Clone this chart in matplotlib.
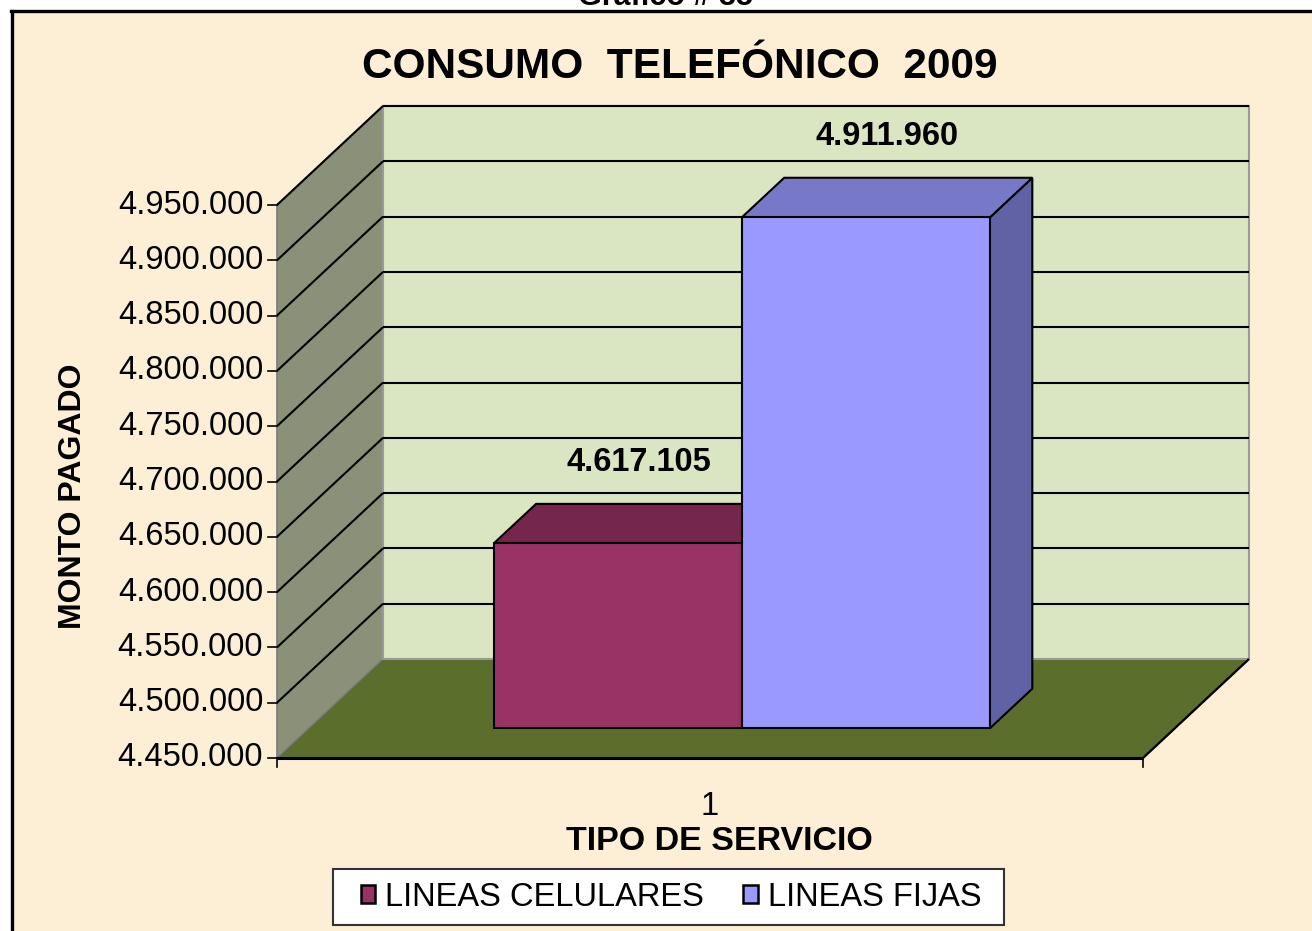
import matplotlib
matplotlib.use("Agg")
import matplotlib.pyplot as plt
from matplotlib.patches import Polygon, Patch, Rectangle
from matplotlib.lines import Line2D

plt.rcParams['font.family'] = ['Liberation Sans', 'DejaVu Sans']

# chart data
title = "CONSUMO  TELEFÓNICO  2009"
series = ["LINEAS CELULARES", "LINEAS FIJAS"]
values = [4617105, 4911960]
category_labels = ["1"]
y_ticks = [4450000, 4500000, 4550000, 4600000, 4650000, 4700000,
           4750000, 4800000, 4850000, 4900000, 4950000]

front_colors = ["#993366", "#9999FF"]
top_colors = ["#74264C", "#7878C8"]
side_colors = ["#5E1F3E", "#6161A6"]

W, H = 1312, 931
DEPTH_PX = (106, 99)      # offset from front plane to back wall, pixels
BAR_DEPTH = (0.3, 0.7)    # bars sit in the middle of the floor
BAR_W = 0.2865


def fmt(v):
    return f"{v:,}".replace(",", ".")


fig = plt.figure(figsize=(W / 100, H / 100), dpi=100, facecolor="white")

# parchment panel with the heavy frame on top and left
fig.patches.append(Rectangle((12 / W, 0), 1, 1 - 12 / H, transform=fig.transFigure,
                             facecolor="#FCEFD6", edgecolor="none", zorder=-5))
fig.add_artist(Line2D([11 / W, 1], [1 - 11 / H, 1 - 11 / H], color="black", lw=2.4, zorder=-4))
fig.add_artist(Line2D([12 / W, 12 / W], [0, 1 - 11 / H], color="black", lw=2.4, zorder=-4))
fig.text(665 / W, 1 - 5 / H, "Gráfico # 35", ha="center", va="baseline",
         fontsize=22, fontweight="bold")

ax = fig.add_axes([277 / W, 173 / H, 866 / W, 553 / H])
ax.set_xlim(0.5, 1.5)
ax.set_ylim(y_ticks[0], y_ticks[-1])
ax.axis("off")
ymin, ymax = y_ticks[0], y_ticks[-1]
x0, x1 = ax.get_xlim()


def proj(x, v, d):
    px, py = ax.transData.transform((x, v))
    return ax.transData.inverted().transform((px + d * DEPTH_PX[0], py + d * DEPTH_PX[1]))


def face(pts, fc, ec="black", lw=1.5, z=1):
    ax.add_patch(Polygon([proj(*p) for p in pts], closed=True, facecolor=fc,
                         edgecolor=ec, lw=lw, zorder=z, clip_on=False))


def seg(p, q, color="black", lw=1.5, z=2):
    a, b = proj(*p), proj(*q)
    ax.plot([a[0], b[0]], [a[1], b[1]], color=color, lw=lw, zorder=z, clip_on=False,
            solid_capstyle="butt")


# floor, side wall and back wall
face([(x0, ymin, 0), (x1, ymin, 0), (x1, ymin, 1), (x0, ymin, 1)], "#5B6E2C", ec="#3A461C", lw=1.2)
face([(x0, ymin, 0), (x0, ymax, 0), (x0, ymax, 1), (x0, ymin, 1)], "#8A9178", ec="#7A7A7A", lw=1.2)
face([(x0, ymin, 1), (x1, ymin, 1), (x1, ymax, 1), (x0, ymax, 1)], "#DAE5C1", ec="#9A9A9A", lw=1.5)
seg((x0, ymin, 0), (x1, ymin, 0), lw=2.2, z=3)
seg((x1, ymin, 0), (x1, ymin, 1), lw=1.6, z=3)

# gridlines across the walls
for t in y_ticks[1:]:
    seg((x0, t, 0), (x0, t, 1))
    seg((x0, t, 1), (x1, t, 1))

# value axis ticks and labels
tick_dx = 9 / 866 * (x1 - x0)
for t in y_ticks:
    ax.plot([x0 - tick_dx, x0], [t, t], color="black", lw=1.2, clip_on=False)
    ax.text(x0 - 0.016, t, fmt(t), ha="right", va="center", fontsize=23.5)
tick_dy = 9 / 553 * (ymax - ymin)
for xb in (x0, x1):
    ax.plot([xb, xb], [ymin, ymin - tick_dy], color="black", lw=1.2, clip_on=False)

# bars
d0, d1 = BAR_DEPTH
for i, v in enumerate(values):
    left = 1 - BAR_W + i * BAR_W
    right = left + BAR_W
    z = 4 + i
    face([(right, ymin, d0), (right, v, d0), (right, v, d1), (right, ymin, d1)], side_colors[i], z=z)
    face([(left, v, d0), (right, v, d0), (right, v, d1), (left, v, d1)], top_colors[i], z=z)
    face([(left, ymin, d0), (right, ymin, d0), (right, v, d0), (left, v, d0)], front_colors[i], z=z)
    lx, ly = proj((left + right) / 2, v, 0.5)
    ax.annotate(fmt(v), (lx, ly), xytext=(0, 44), textcoords="offset points",
                ha="center", va="center", fontsize=23.5, fontweight="bold", zorder=10,
                annotation_clip=False)

# category axis
ax.text(1.0, ymin - 0.087 * (ymax - ymin), category_labels[0], ha="center", va="center", fontsize=23.5)
fig.text(719 / W, 1 - 841 / H, "TIPO DE SERVICIO", ha="center", va="center",
         fontsize=24.5, fontweight="bold")
fig.text(73 / W, 1 - 496 / H, "MONTO PAGADO", ha="center", va="center", rotation=90,
         fontsize=23, fontweight="bold")
fig.text(680 / W, 1 - 67 / H, title, ha="center", va="center", fontsize=30.5, fontweight="bold")

# legend: white box with the two swatches
fig.patches.append(Rectangle((333 / W, 1 - 925 / H), 671 / W, 56 / H, transform=fig.transFigure,
                             facecolor="white", edgecolor="#333333", lw=1.5, zorder=5))
handles = [Patch(facecolor=c, edgecolor="black", lw=1.8) for c in front_colors]
leg = fig.legend(handles, series, loc="center", bbox_to_anchor=(671 / W, 1 - 897 / H),
                 ncol=2, fontsize=23.5, frameon=False,
                 handlelength=0.45, handleheight=0.45, handletextpad=0.3,
                 columnspacing=1.2, borderpad=0.2)
leg.set_zorder(6)

fig.savefig("out.png", dpi=100, facecolor=fig.get_facecolor())
